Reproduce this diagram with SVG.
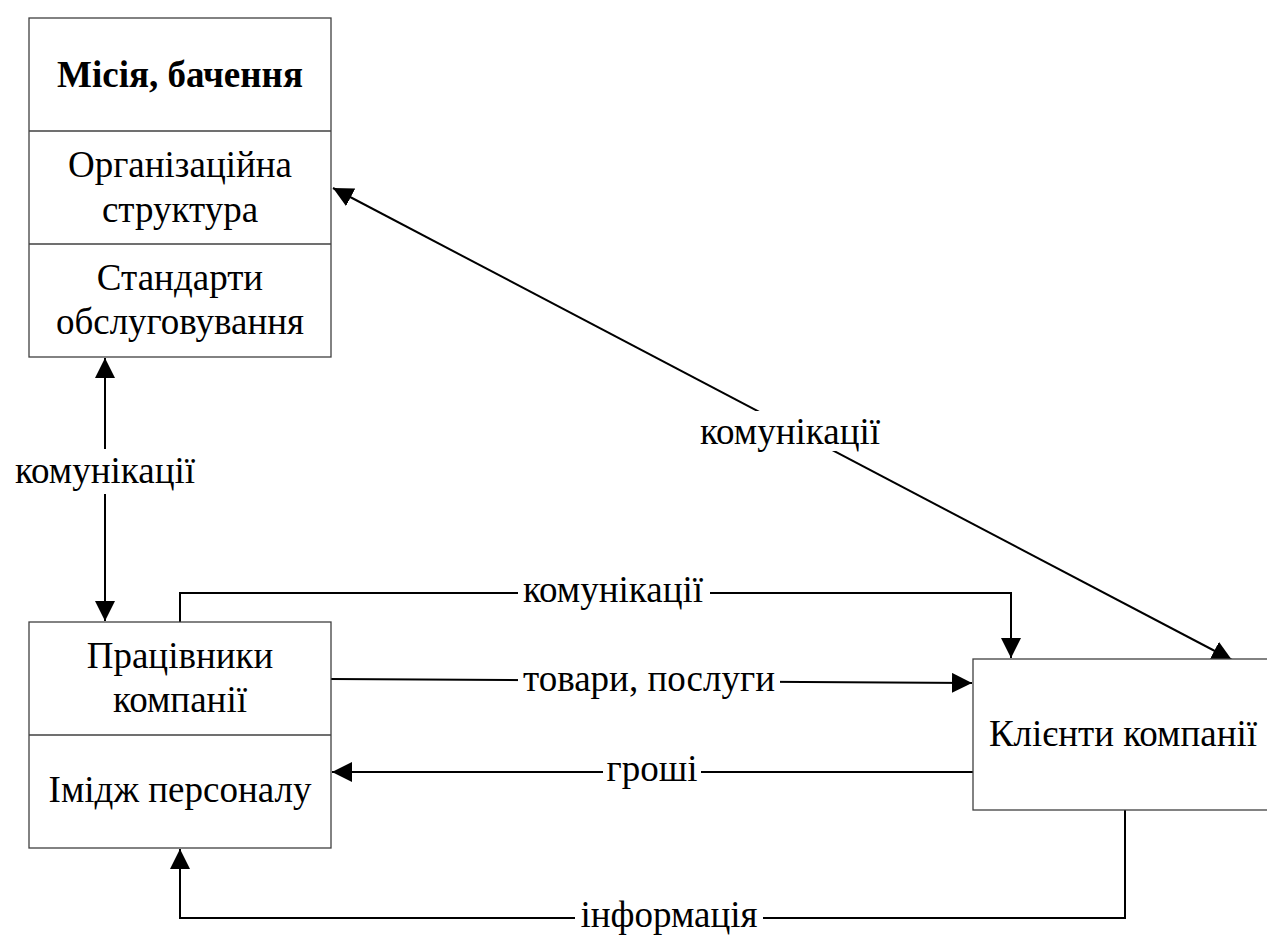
<svg xmlns="http://www.w3.org/2000/svg" width="1267" height="935" viewBox="0 0 1267 935">
<style>
.box{fill:#fff;stroke:#404040;stroke-width:1.3}
.div{stroke:#404040;stroke-width:1.3}
.c{fill:none;stroke:#000;stroke-width:2}
text{font-family:'Liberation Serif',Tinos,'Times New Roman','DejaVu Serif',serif;font-size:37px;fill:#000;text-anchor:middle}
.b{font-weight:bold}
.bg{fill:#fff}
</style>
<defs>
<marker id="ah" viewBox="0 0 20 20" refX="20" refY="10" markerWidth="20" markerHeight="20" markerUnits="userSpaceOnUse" orient="auto-start-reverse">
<path d="M0,0 L20,10 L0,20 Z" fill="#000"/>
</marker>
</defs>
<g id="connectors">
<line class="c" x1="105" y1="358" x2="105" y2="621" marker-start="url(#ah)" marker-end="url(#ah)"/>
<path class="c" d="M180,622 V593 H1011 V658" marker-end="url(#ah)"/>
<line class="c" x1="331" y1="679" x2="972" y2="683" marker-end="url(#ah)"/>
<line class="c" x1="973" y1="772" x2="332" y2="772" marker-end="url(#ah)"/>
<path class="c" d="M1125,810 V918 H180 V849" marker-end="url(#ah)"/>
<line class="c" x1="1232" y1="660" x2="333" y2="188" marker-end="url(#ah)" marker-start="url(#ah)"/>
<rect class="bg" x="12" y="449" width="186" height="45"/>
<text x="105" y="483" font-family="Liberation Serif">комунікації</text>
<rect class="bg" x="518" y="580" width="192" height="30"/>
<text x="613" y="602" font-family="Liberation Serif">комунікації</text>
<rect class="bg" x="518" y="668" width="262" height="30"/>
<text x="649" y="691" font-family="Liberation Serif">товари, послуги</text>
<rect class="bg" x="603" y="760" width="98" height="26"/>
<text x="652" y="781" font-family="Liberation Serif">гроші</text>
<rect class="bg" x="575" y="906" width="188" height="26"/>
<text x="669" y="927" font-family="Liberation Serif">інформація</text>
<polygon class="bg" points="747,410 690,410 690,460 832,460 832,456"/>
<rect class="bg" x="697" y="411" width="187" height="40"/>
<text x="790" y="444" font-family="Liberation Serif">комунікації</text>
</g>
<g id="node-mission">
<rect class="box" x="29" y="18" width="302" height="339"/>
<line class="div" x1="29" y1="131" x2="331" y2="131"/>
<line class="div" x1="29" y1="244" x2="331" y2="244"/>
<text class="b" x="180" y="87" font-family="Liberation Serif">Місія, бачення</text>
<text x="180" y="177" font-family="Liberation Serif">Організаційна</text>
<text x="180" y="222" font-family="Liberation Serif">структура</text>
<text x="180" y="290" font-family="Liberation Serif">Стандарти</text>
<text x="180" y="334" font-family="Liberation Serif">обслуговування</text>
</g>
<g id="node-employees">
<rect class="box" x="29" y="622" width="302" height="226"/>
<line class="div" x1="29" y1="735" x2="331" y2="735"/>
<text x="180" y="668" font-family="Liberation Serif">Працівники</text>
<text x="180" y="712" font-family="Liberation Serif">компанії</text>
<text x="180" y="802" font-family="Liberation Serif">Імідж персоналу</text>
</g>
<g id="node-clients">
<rect class="box" x="973" y="659" width="300" height="151"/>
<text x="1123" y="746" font-family="Liberation Serif">Клієнти компанії</text>
</g>
</svg>
